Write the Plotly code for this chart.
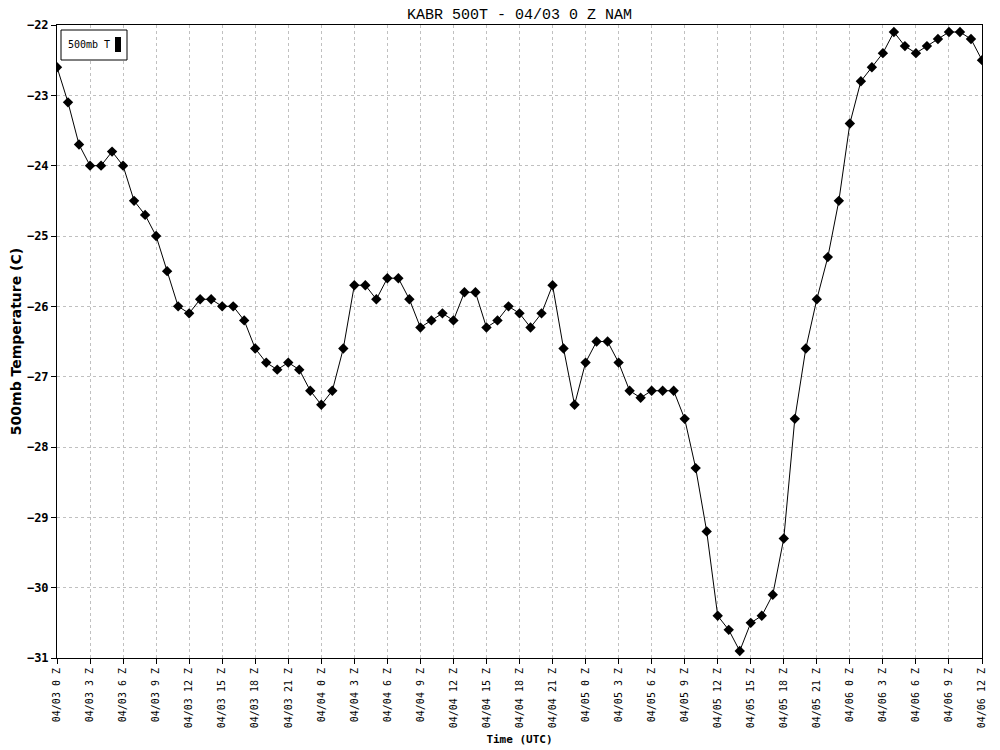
import plotly.graph_objects as go

# forecast hour since 04/03 0 Z
hours = list(range(85))
temp_500mb = [
    -22.6, -23.1, -23.7, -24.0, -24.0, -23.8, -24.0, -24.5, -24.7, -25.0,
    -25.5, -26.0, -26.1, -25.9, -25.9, -26.0, -26.0, -26.2, -26.6, -26.8,
    -26.9, -26.8, -26.9, -27.2, -27.4, -27.2, -26.6, -25.7, -25.7, -25.9,
    -25.6, -25.6, -25.9, -26.3, -26.2, -26.1, -26.2, -25.8, -25.8, -26.3,
    -26.2, -26.0, -26.1, -26.3, -26.1, -25.7, -26.6, -27.4, -26.8, -26.5,
    -26.5, -26.8, -27.2, -27.3, -27.2, -27.2, -27.2, -27.6, -28.3, -29.2,
    -30.4, -30.6, -30.9, -30.5, -30.4, -30.1, -29.3, -27.6, -26.6, -25.9,
    -25.3, -24.5, -23.4, -22.8, -22.6, -22.4, -22.1, -22.3, -22.4, -22.3,
    -22.2, -22.1, -22.1, -22.2, -22.5,
]
tick_hours = list(range(0, 85, 3))
tick_labels = [
    "04/03 0 Z", "04/03 3 Z", "04/03 6 Z", "04/03 9 Z", "04/03 12 Z", "04/03 15 Z",
    "04/03 18 Z", "04/03 21 Z", "04/04 0 Z", "04/04 3 Z", "04/04 6 Z", "04/04 9 Z",
    "04/04 12 Z", "04/04 15 Z", "04/04 18 Z", "04/04 21 Z", "04/05 0 Z", "04/05 3 Z",
    "04/05 6 Z", "04/05 9 Z", "04/05 12 Z", "04/05 15 Z", "04/05 18 Z", "04/05 21 Z",
    "04/06 0 Z", "04/06 3 Z", "04/06 6 Z", "04/06 9 Z", "04/06 12 Z",
]
y_ticks = [-31, -30, -29, -28, -27, -26, -25, -24, -23, -22]

mono = "DejaVu Sans Mono"

# the page body adds an 8px offset; figure is sized so the plot lands where the reference has it
W, H = 992, 742
L, T, R, B = 49, 17, 18, 92
PW, PH = W - L - R, H - T - B

fig = go.Figure()
fig.add_trace(go.Scatter(
    x=hours, y=temp_500mb, mode="lines+markers",
    line=dict(color="black", width=1),
    marker=dict(symbol="diamond", size=8, color="black"),
    showlegend=False, name="500mb T",
))

fig.update_layout(
    width=W, height=H,
    margin=dict(l=L, r=R, t=T, b=B, autoexpand=False),
    paper_bgcolor="white", plot_bgcolor="white",
    title=dict(text="KABR 500T - 04/03 0 Z NAM", x=0.5, xanchor="center",
               xref="paper", y=1 - 6 / H, yanchor="middle", yref="container",
               font=dict(family="Liberation Mono", size=15, color="black")),
    xaxis=dict(
        range=[0, 84], tickmode="array", tickvals=tick_hours, ticktext=tick_labels,
        tickangle=-90, tickfont=dict(family=mono, size=10, color="black"),
        ticks="outside", ticklen=5, tickcolor="black", tickwidth=1,
        showgrid=True, gridcolor="#c0c0c0", griddash="dot", gridwidth=1,
        showline=True, linecolor="black", linewidth=1, mirror=True,
        zeroline=False, automargin=False,
        title=dict(text="<b>Time (UTC)</b>", font=dict(family=mono, size=11, color="black"),
                   standoff=8),
    ),
    yaxis=dict(
        range=[-31, -22], tickmode="array", tickvals=y_ticks,
        tickfont=dict(family=mono, size=12, color="black", weight="bold"),
        ticks="outside", ticklen=5, tickcolor="black", tickwidth=1,
        showgrid=True, gridcolor="#c0c0c0", griddash="dot", gridwidth=1,
        showline=True, linecolor="black", linewidth=1, mirror=True,
        zeroline=False, automargin=False,
        title=dict(text="500mb Temperature (C)",
                   font=dict(family="DejaVu Sans", size=14, color="black", weight="bold"),
                   standoff=10),
    ),
)

# legend box (reference pixel positions relative to the plot area's top-left corner)
def px(dx):
    return dx / PW

def py(dy):
    return 1 - dy / PH

fig.add_shape(type="rect", xref="paper", yref="paper",
              x0=px(4), x1=px(70), y0=py(35), y1=py(5),
              line=dict(color="black", width=1), fillcolor="white", layer="above")
fig.add_shape(type="rect", xref="paper", yref="paper",
              x0=px(58), x1=px(64), y0=py(27), y1=py(12),
              line=dict(color="black", width=0), fillcolor="black", layer="above")
fig.add_annotation(text="500mb T", xref="paper", yref="paper",
                   x=px(9), y=py(20), xanchor="left", yanchor="middle",
                   showarrow=False, font=dict(family=mono, size=10, color="black"))

fig.write_html("out.html")
